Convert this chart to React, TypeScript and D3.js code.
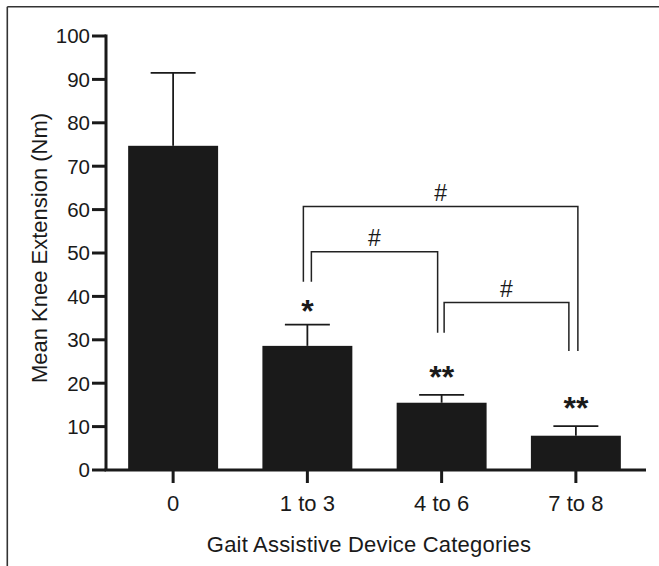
import React from 'react'
import * as d3 from 'd3'

const categories = ['0', '1 to 3', '4 to 6', '7 to 8']
const means = [74.7, 28.6, 15.5, 7.9]
const errors = [16.8, 4.9, 1.8, 2.2]
const yTicks = [0, 10, 20, 30, 40, 50, 60, 70, 80, 90, 100]

// significance stars above bars (value where the text baseline sits)
const stars = [
  { cat: '1 to 3', text: '*', at: 34.0 },
  { cat: '4 to 6', text: '**', at: 19.0 },
  { cat: '7 to 8', text: '**', at: 11.8 },
]

// brackets: top value and the value where each leg ends
const brackets = [
  { from: '1 to 3', to: '7 to 8', top: 60.7, leftEnd: 43.4, rightEnd: 27.4, dl: -4, dr: 2 },
  { from: '1 to 3', to: '4 to 6', top: 50.3, leftEnd: 43.4, rightEnd: 31.6, dl: 4, dr: -4 },
  { from: '4 to 6', to: '7 to 8', top: 38.6, leftEnd: 31.6, rightEnd: 27.4, dl: 2.5, dr: -7 },
]

const W = 659
const H = 566
const FONT = '"Liberation Sans", Arial, Helvetica, sans-serif'
const INK = '#1a1a1a'

export default function App() {
  const x = d3.scaleBand<string>().domain(categories).range([106, 643]).paddingInner(0.33).paddingOuter(0.165)
  const y = d3.scaleLinear().domain([0, 100]).range([470, 36])
  const bw = x.bandwidth()
  const cx = (c: string) => (x(c) ?? 0) + bw / 2

  return (
    <svg width={W} height={H} style={{ position: 'absolute', left: 0, top: 0, background: '#fff' }} fontFamily={FONT}>
      {/* frame */}
      <line x1={7.3} x2={W} y1={6.7} y2={6.7} stroke="#333" strokeWidth={1.6} />
      <line x1={7.3} x2={7.3} y1={6.7} y2={H} stroke="#333" strokeWidth={1.6} />

      {/* bars */}
      {categories.map((c, i) => (
        <g key={c}>
          <line x1={cx(c)} x2={cx(c)} y1={y(means[i])} y2={y(means[i] + errors[i])} stroke={INK} strokeWidth={1.8} />
          <line x1={cx(c) - bw / 4} x2={cx(c) + bw / 4} y1={y(means[i] + errors[i])} y2={y(means[i] + errors[i])} stroke={INK} strokeWidth={1.8} />
          <rect x={x(c)} y={y(means[i])} width={bw} height={y(0) - y(means[i])} fill={INK} />
        </g>
      ))}

      {/* y axis */}
      <line x1={106} x2={106} y1={y(100) - 1.5} y2={y(0)} stroke={INK} strokeWidth={3} />
      {yTicks.map((t) => (
        <g key={t}>
          <line x1={92} x2={106} y1={y(t)} y2={y(t)} stroke={INK} strokeWidth={3} />
          <text x={90} y={y(t)} dy="0.36em" textAnchor="end" fontSize={20.5} fill={INK}>{t}</text>
        </g>
      ))}
      <text transform={`translate(46.5,248) rotate(-90)`} textAnchor="middle" fontSize={22} fill={INK}>Mean Knee Extension (Nm)</text>

      {/* x axis */}
      <line x1={104.5} x2={646} y1={y(0)} y2={y(0)} stroke={INK} strokeWidth={3} />
      {categories.map((c) => (
        <g key={c}>
          <line x1={cx(c)} x2={cx(c)} y1={y(0)} y2={y(0) + 13} stroke={INK} strokeWidth={3} />
          <text x={cx(c)} y={510.5} textAnchor="middle" fontSize={22} fill={INK}>{c}</text>
        </g>
      ))}
      <text x={369} y={551.5} textAnchor="middle" fontSize={22} fill={INK} letterSpacing={0.2}>Gait Assistive Device Categories</text>

      {/* stars */}
      {stars.map((s) => (
        <text key={s.cat} x={cx(s.cat)} y={y(s.at)} textAnchor="middle" fontSize={32} fontWeight="bold" fill={INK}>{s.text}</text>
      ))}

      {/* brackets */}
      {brackets.map((b, i) => {
        const xl = cx(b.from) + b.dl
        const xr = cx(b.to) + b.dr
        return (
          <g key={i}>
            <path d={`M${xl},${y(b.leftEnd)}V${y(b.top)}H${xr}V${y(b.rightEnd)}`} fill="none" stroke="#222" strokeWidth={1.5} />
            <text x={(xl + xr) / 2} y={y(b.top) - 5.5} textAnchor="middle" fontSize={23} fill={INK}>#</text>
          </g>
        )
      })}
    </svg>
  )
}
